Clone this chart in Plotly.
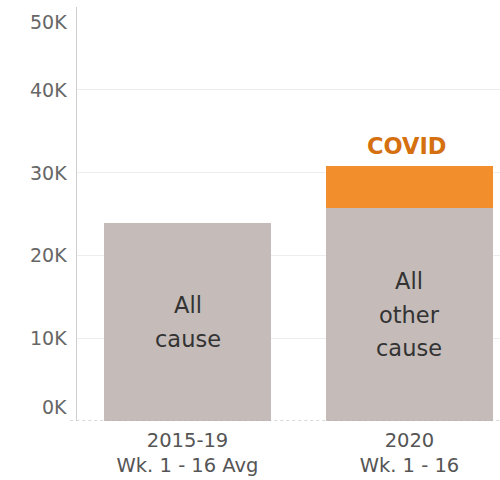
import plotly.graph_objects as go

categories = ["2015-19<br>Wk. 1 - 16 Avg", "2020<br>Wk. 1 - 16"]
other_cause = [23900, 25700]
covid = [None, 5050]
bar_labels = ["All<br>cause", "All<br>other<br>cause"]
covid_label = "COVID"
y_tick_vals = [0, 10000, 20000, 30000, 40000, 50000]
y_tick_text = ["0K", "10K", "20K", "30K", "40K", "50K"]

FONT = "DejaVu Sans"
x = list(range(len(categories)))

fig = go.Figure()
fig.add_trace(go.Bar(x=x, y=other_cause, marker_color="#c5bcb9", width=0.752,
                     hoverinfo="skip", marker_line_width=0))
fig.add_trace(go.Bar(x=x, y=covid, marker_color="#f28e2b", width=0.752,
                     hoverinfo="skip", marker_line_width=0))

annotations = []
LINE = 33.5
for xi, v, lab in zip(x, other_cause, bar_labels):
    lines = lab.split("<br>")
    n = len(lines)
    for i, ln in enumerate(lines):
        annotations.append(dict(x=xi, y=v / 2, xref="x", yref="y", text=ln, showarrow=False,
                                font=dict(family=FONT, size=22.5, color="#333333"),
                                xanchor="center", yanchor="middle",
                                yshift=((n - 1) / 2 - i) * LINE))
ci = 1
annotations.append(dict(x=x[ci], y=other_cause[ci] + covid[ci], xref="x", yref="y",
                        text="<b>" + covid_label + "</b>", showarrow=False,
                        font=dict(family=FONT, size=22.5, color="#d4700f"),
                        xanchor="center", yanchor="bottom", yshift=5, xshift=-2))
for tv, tt in zip(y_tick_vals, y_tick_text):
    shift = 0
    if tv == y_tick_vals[0]:
        shift = 14
    elif tv == y_tick_vals[-1]:
        shift = -15
    annotations.append(dict(x=0, y=tv, xref="paper", yref="y", text=tt, showarrow=False,
                            font=dict(family=FONT, size=19, color="#666666"),
                            xanchor="right", yanchor="middle", xshift=-8, yshift=shift))

fig.update_layout(
    width=500, height=480,
    margin=dict(l=77, r=0, t=7, b=59),
    barmode="stack",
    showlegend=False,
    plot_bgcolor="white", paper_bgcolor="white",
    annotations=annotations,
    xaxis=dict(range=[-0.498, 1.408], tickvals=x, ticktext=categories,
               tickfont=dict(family=FONT, size=19.5, color="#555555"),
               ticklabelstandoff=5,
               showgrid=False, zeroline=False, showline=False, ticks="", fixedrange=True),
    yaxis=dict(range=[0, 50000], tickvals=y_tick_vals, showticklabels=False,
               showgrid=True, gridcolor="#ededed", gridwidth=1, zeroline=False,
               showline=True, linecolor="#d0d0d0", linewidth=1, ticks="", fixedrange=True),
    shapes=[dict(type="line", xref="paper", yref="y", x0=-0.016, x1=1, y0=0, y1=0,
                 line=dict(color="#b0b0b0", width=1, dash="dot"))],
)

fig.write_html("out.html", config={"displayModeBar": False},
               post_script="document.body.style.margin='0';")
